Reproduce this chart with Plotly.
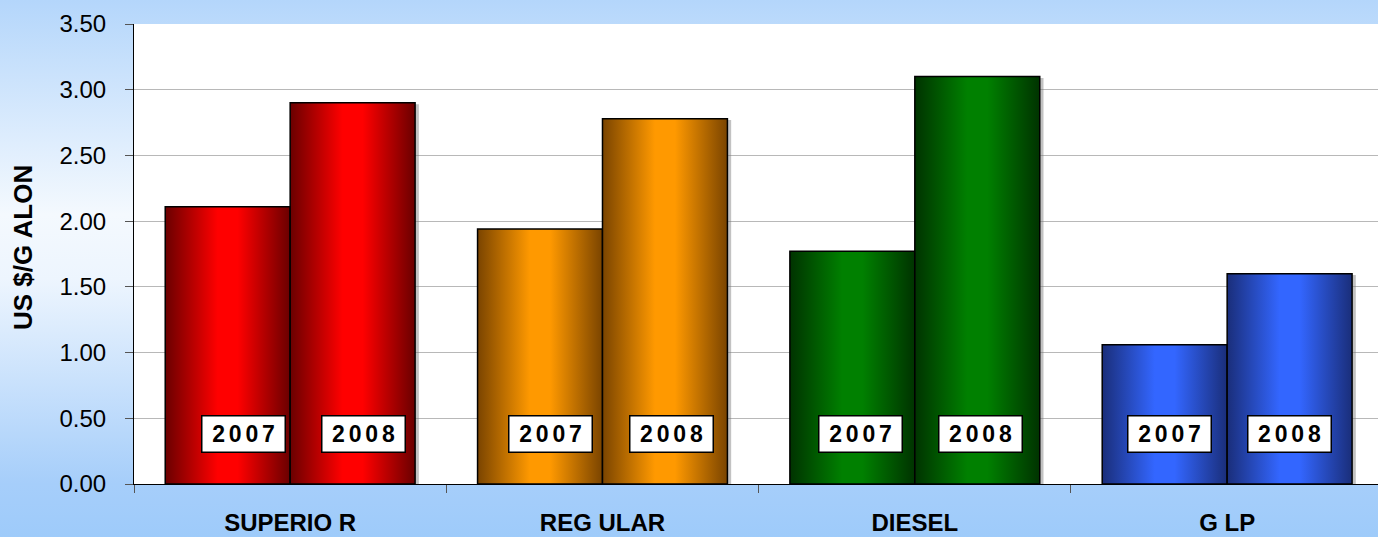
import base64
import plotly.graph_objects as go

categories = ["SUPERIO R", "REG ULAR", "DIESEL", "G LP"]
years = ["2007", "2008"]
values_2007 = [2.11, 1.94, 1.77, 1.06]
values_2008 = [2.90, 2.78, 3.10, 1.60]
y_ticks = [0.0, 0.5, 1.0, 1.5, 2.0, 2.5, 3.0, 3.5]

# styles
bright = ["#ff0000", "#ff9900", "#008000", "#3366ff"]
dark = ["#6a0000", "#7a4400", "#003300", "#1a2e7a"]
label_shift = [[16, 11], [10, 7], [8, 3], [5, 0]]
BAR_W = 0.4

W, H = 1378, 537
ML, MR, MT, MB = 134, 0, 24, 53
PW, PH = W - ML - MR, H - MT - MB
X_RANGE = [-0.5, 3.483]

fig = go.Figure()

series = [values_2007, values_2008]
for i, cat in enumerate(categories):
    for s, vals in enumerate(series):
        v = vals[i]
        x0 = i - BAR_W + s * BAR_W
        x1 = x0 + BAR_W
        # soft shadow on the right
        fig.add_trace(go.Scatter(
            x=[x1, x1, x1 + 0.012, x1 + 0.012, x1],
            y=[0, v - 0.01, v - 0.01, 0, 0],
            mode="lines", fill="toself",
            fillcolor="rgba(120,120,120,0.45)", line=dict(width=0),
            showlegend=False, hoverinfo="skip",
        ))
        fig.add_trace(go.Scatter(
            x=[x0, x0, x1, x1, x0],
            y=[0, v, v, 0, 0],
            mode="lines",
            fill="toself",
            fillgradient=dict(
                type="horizontal",
                colorscale=[[0, dark[i]], [0.42, bright[i]], [0.58, bright[i]], [1, dark[i]]],
            ),
            line=dict(color="black", width=1.5),
            name=f"{cat} {years[s]}",
            showlegend=False,
            hovertemplate=f"{cat} {years[s]}: {v:.2f}<extra></extra>",
        ))
        fig.add_annotation(
            x=(x0 + x1) / 2, y=0.38, xref="x", yref="y",
            text="\u2006".join(years[s]),
            showarrow=False,
            font=dict(family="Liberation Sans, Arial", size=23, color="black", weight="bold"),
            bgcolor="white", bordercolor="black", borderwidth=1.5,
            width=80, height=33, xshift=label_shift[i][s],
        )

# background gradient (paper area)
svg = (
    '<svg xmlns="http://www.w3.org/2000/svg" width="100" height="100" viewBox="0 0 100 100" preserveAspectRatio="none">'
    '<defs><linearGradient id="g" x1="0" y1="0" x2="0" y2="1">'
    '<stop offset="0" stop-color="#b4d6fb"/>'
    '<stop offset="0.40" stop-color="#f4f9fe"/>'
    '<stop offset="0.52" stop-color="#edf5fe"/>'
    '<stop offset="0.90" stop-color="#a6cefa"/>'
    '<stop offset="1" stop-color="#9ecbfa"/>'
    '</linearGradient></defs><rect x="0" y="0" width="100" height="100" fill="url(#g)"/></svg>'
)
src = "data:image/svg+xml;base64," + base64.b64encode(svg.encode()).decode()
fig.add_layout_image(
    source=src, xref="paper", yref="paper",
    x=-ML / PW, y=1 + MT / PH, sizex=W / PW, sizey=H / PH,
    xanchor="left", yanchor="top", sizing="stretch", layer="below",
)
# white plotting area over the gradient
fig.add_shape(
    type="rect", xref="paper", yref="paper", x0=0, x1=1, y0=0, y1=1,
    fillcolor="white", line=dict(width=0), layer="below",
)

# y-axis title
fig.add_annotation(
    text="US $/G ALON", xref="paper", yref="paper",
    x=-(ML - 23) / PW, y=0.5, yshift=6, textangle=-90, showarrow=False,
    xanchor="center", yanchor="middle",
    font=dict(family="Liberation Sans, Arial", size=26, color="black", weight="bold"),
)

fig.update_layout(
    width=W, height=H,
    margin=dict(l=ML, r=MR, t=MT, b=MB, pad=0, autoexpand=False),
    paper_bgcolor="#cfe4fc",
    plot_bgcolor="white",
    showlegend=False,
    xaxis=dict(
        range=X_RANGE,
        tickmode="array",
        tickvals=list(range(len(categories))),
        ticktext=categories,
        ticks="outside", ticklen=17, tickcolor="rgba(0,0,0,0)",
        tickfont=dict(family="Liberation Sans Narrow, Arial Narrow, Liberation Sans",
                      size=24, color="black", weight="bold"),
        showgrid=False, zeroline=False,
        showline=True, linecolor="black", linewidth=1,
        automargin=False,
        minor=dict(
            tickmode="array",
            tickvals=[k - 0.5 for k in range(len(categories) + 1)],
            ticks="outside", ticklen=8, tickcolor="#555555", tickwidth=1,
        ),
        fixedrange=True,
    ),
    yaxis=dict(
        range=[0, 3.5],
        tickmode="array",
        tickvals=y_ticks,
        ticktext=[f"{t:.2f}" for t in y_ticks],
        ticks="outside", ticklen=8, tickcolor="#555555",
        ticklabelstandoff=14,
        tickfont=dict(family="Liberation Sans, Arial", size=24, color="black"),
        showgrid=True, gridcolor="#b8b8b8", gridwidth=1,
        zeroline=False,
        showline=True, linecolor="black", linewidth=1,
        automargin=False,
        fixedrange=True,
    ),
)

fig.write_html(
    "out.html",
    config={"displayModeBar": False},
    post_script="document.body.style.margin='0';document.body.style.overflow='hidden';",
)
